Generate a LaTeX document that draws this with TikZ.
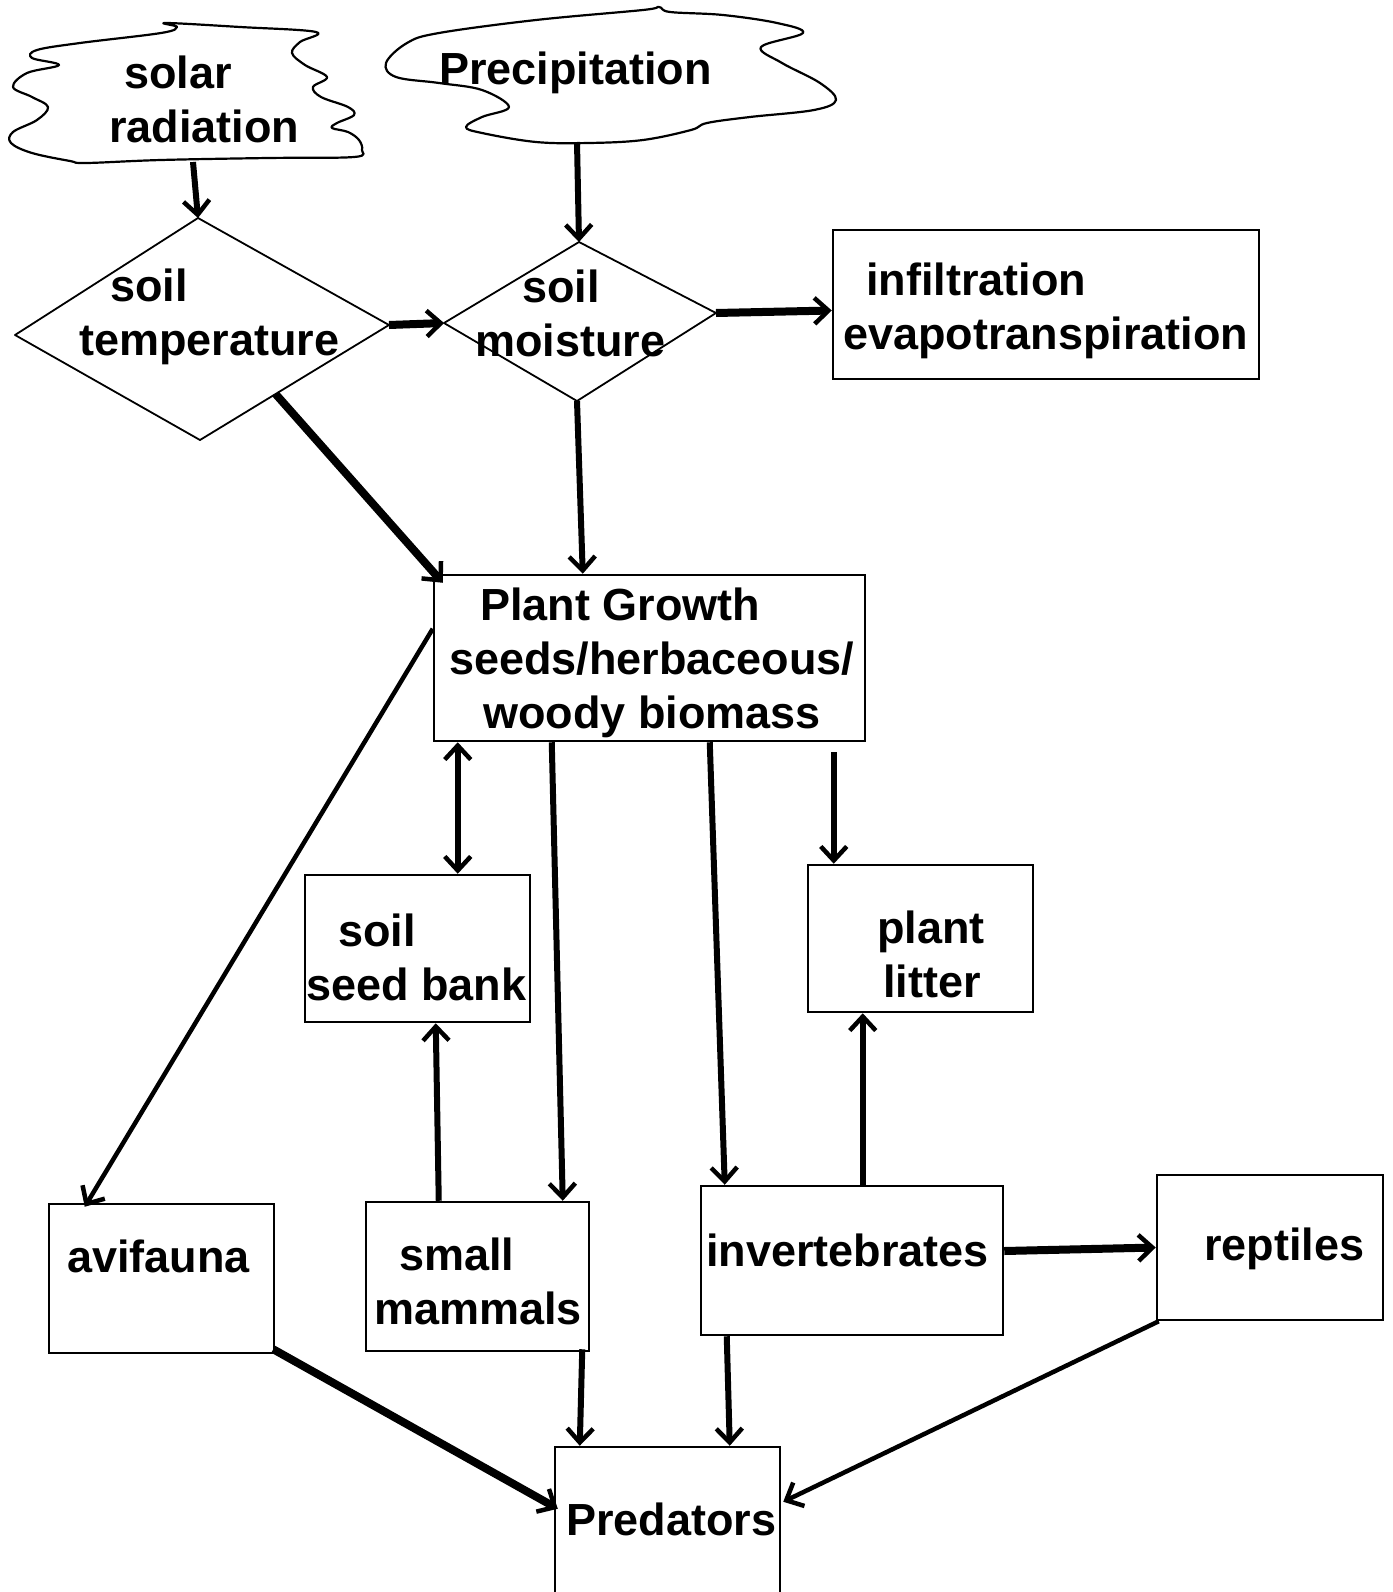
\documentclass[tikz,border=0pt]{standalone}
\usepackage{fontspec}
\setmainfont{Liberation Sans}
\usetikzlibrary{arrows.meta,calc}
\tikzset{
  box/.style={draw, line width=2.5pt, inner sep=0pt},
  lbl/.style={anchor=west, inner sep=0pt, align=left, font=\fontsize{45}{54}\selectfont\bfseries},
  outline/.style={line width=2.2pt, line join=round},
  tip/.style={Straight Barb[length=14pt,width=26pt,line width=4.5pt]},
  arr/.style={line width=6pt, -{Straight Barb[length=14pt,width=26pt,line width=4.5pt]}},
  arrthick/.style={arr, line width=8pt},
  arrthin/.style={arr, line width=4.5pt},
  darr/.style={line width=6pt, {Straight Barb[length=14pt,width=26pt,line width=4.5pt]}-{Straight Barb[length=14pt,width=26pt,line width=4.5pt]}}
}
\begin{document}
\begin{tikzpicture}[x=1pt,y=-1pt]
\useasboundingbox[fill=white] (0,0) rectangle (1392,1592);
% clouds
\draw[outline] plot[smooth cycle, tension=0.6] coordinates {
 (166,23) (240,27) (316,32) (300,42) (292,53) (305,65) (327,77) (313,87) (321,97) (348,107)
 (354,115) (337,123) (332,128) (348,132) (359,140) (362,150) (354,157) (268,158) (161,160)
 (86,163) (70,161) (32,153) (11,143) (13,132) (37,120) (48,107) (32,97) (13,87) (27,73)
 (59,65) (32,58) (37,50) (80,43) (161,33) (177,27)};
\draw[outline] plot[smooth cycle, tension=0.6] coordinates {
 (386,63) (407,43) (439,33) (536,20) (643,10) (659,7) (670,12) (723,15) (777,23) (803,33)
 (761,47) (782,63) (820,83) (836,100) (814,110) (750,117) (707,123) (691,130) (643,140)
 (589,143) (536,142) (482,133) (466,127) (482,117) (509,107) (482,90) (439,83) (396,77)};
\node[lbl] (solar) at (109,99.5) {\hspace{15pt}solar\\radiation};
\node[lbl] (precip) at (439,73) {Precipitation};
\coordinate (solarb) at (193,162);
\coordinate (precipb) at (577,142);
% diamonds
\coordinate (stT) at (198,218); \coordinate (stL) at (15,335);
\coordinate (stR) at (389,325); \coordinate (stB) at (200,440);
\draw[line width=1.8pt, line join=round] (stT) -- (stR) -- (stB) -- (stL) -- cycle;
\node[lbl] (soiltemp) at (79,317) {\hspace{31pt}soil\\temperature};
\coordinate (mT) at (579,242); \coordinate (mL) at (444,323);
\coordinate (mR) at (716,313); \coordinate (mB) at (577,401);
\draw[line width=1.8pt, line join=round] (mT) -- (mR) -- (mB) -- (mL) -- cycle;
\node[lbl] (moist) at (475,313) {\hspace{47pt}soil\\moisture};
% boxes
\node[box, minimum width=426pt, minimum height=149pt] (infil) at (1046,304.5) {};
\node[lbl] (infiltxt) at (843,311) {\hspace{23pt}infiltration\\evapotranspiration};
\node[box, minimum width=431pt, minimum height=166pt] (plant) at (649.5,658) {};
\node[lbl] (planttxt) at (449,663) {\hspace{31pt}Plant Growth\\seeds/herbaceous/\\\hspace{34pt}woody biomass};
\node[box, minimum width=225pt, minimum height=147pt] (seed) at (417.5,948.5) {};
\node[lbl] (seedtxt) at (306,957) {\hspace{32pt}soil\\seed bank};
\node[box, minimum width=225pt, minimum height=147pt] (litter) at (920.5,938.5) {};
\node[lbl] (littertxt) at (877,954) {plant\\\hspace{6pt}litter};
\node[box, minimum width=225pt, minimum height=149pt] (avi) at (161.5,1278.5) {};
\node[lbl] (avitxt) at (67,1256) {avifauna};
\node[box, minimum width=223pt, minimum height=149pt] (small) at (477.5,1276.5) {};
\node[lbl] (smalltxt) at (374,1281) {\hspace{25pt}small\\mammals};
\node[box, minimum width=302pt, minimum height=149pt] (invert) at (852,1260.5) {};
\node[lbl] (inverttxt) at (706,1250) {invertebrates};
\node[box, minimum width=226pt, minimum height=145pt] (rept) at (1270,1247.5) {};
\node[lbl] (repttxt) at (1204,1249) {reptiles};
\node[box, minimum width=225pt, minimum height=166pt] (pred) at (667.5,1530) {};
\node[lbl] (predtxt) at (566,1519) {Predators};
% connectors
\draw[arr] (solarb) -- (stT);
\draw[arr] (precipb) -- (mT);
\draw[arrthick] (stR) -- (mL);
\draw[arrthick] (mR) -- ($(infil.west)+(0,6)$);
\draw[arrthick] ($(stR)!0.6!(stB)$) -- ($(plant.north west)+(10,9)$);
\draw[arr] (mB) -- ($(plant.north west)+(150,0)$);
\draw[arrthin] ($(plant.north west)+(0,55)$) -- ($(avi.north west)+(37,4)$);
\draw[darr] ($(plant.south west)+(25,0)$) -- ($(seed.north west)+(154,0)$);
\draw[arr] ($(plant.south west)+(119,0)$) -- ($(small.north west)+(198,0)$);
\draw[arr] ($(plant.south west)+(277,0)$) -- ($(invert.north west)+(25,0)$);
\draw[arr] ($(plant.south west)+(401,10)$) -- ($(litter.north west)+(27,0)$);
\draw[arr] ($(small.north west)+(74,0)$) -- ($(seed.south west)+(132,0)$);
\draw[arr] ($(invert.north west)+(163,0)$) -- ($(litter.south west)+(56,0)$);
\draw[arrthick] ($(invert.east)+(0,-9.5)$) -- ($(rept.west)+(0,0)$);
\draw[arrthick] ($(avi.south east)+(-2,-5)$) -- ($(pred.north west)+(4,63)$);
\draw[arr] ($(small.south east)+(-8,-3)$) -- ($(pred.north west)+(26,0)$);
\draw[arr] ($(invert.south west)+(27,0)$) -- ($(pred.north west)+(176,0)$);
\draw[arrthin] ($(rept.south west)+(3,0)$) -- ($(pred.north east)+(2,56)$);
\end{tikzpicture}
\end{document}
